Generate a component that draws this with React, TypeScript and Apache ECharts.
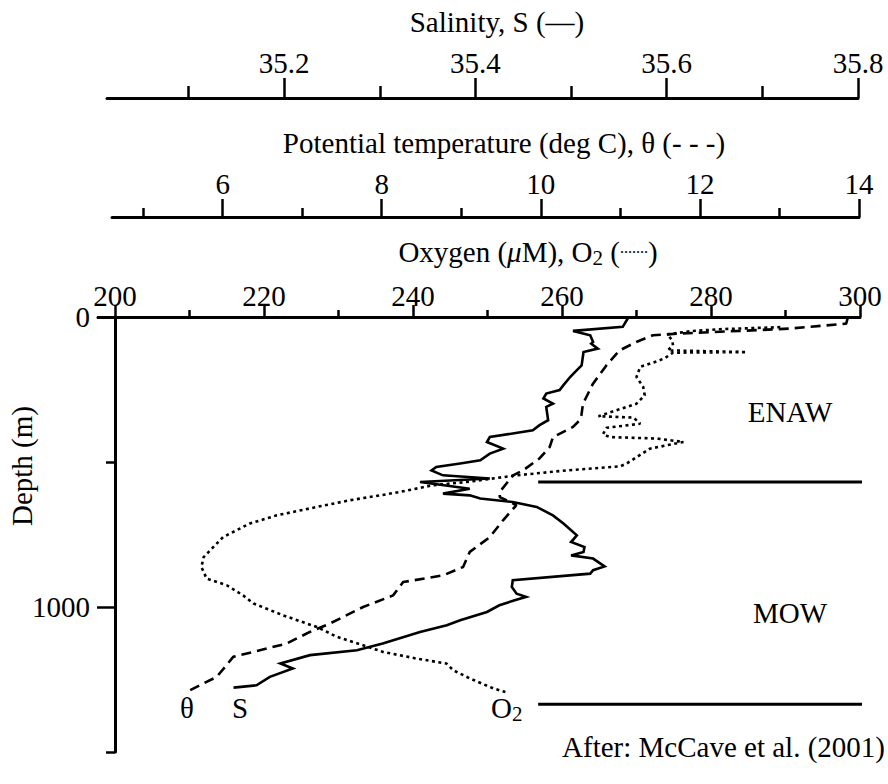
import React, { useEffect, useRef } from 'react';
import * as echarts from 'echarts';

const FONT = '"Liberation Serif", "Times New Roman", serif';
const FS = 29;

// ---- Data ----
// Salinity S vs depth (m)
const salDepth = [1, 34, 48, 63, 86, 92, 109, 121, 167, 190, 207, 235, 252, 264, 281, 299, 310, 356, 373, 391, 414, 431, 454, 471, 494, 505, 517, 529, 546, 557, 569, 592, 609, 615, 626, 638, 655, 684, 712, 753, 776, 793, 810, 822, 833, 860, 873, 885, 908, 931, 954, 965, 977, 994, 1017, 1046, 1063, 1086, 1126, 1149, 1166, 1195, 1212, 1241, 1270, 1278];
const salValue = [35.560, 35.554, 35.502, 35.520, 35.523, 35.521, 35.528, 35.513, 35.511, 35.504, 35.499, 35.492, 35.488, 35.474, 35.471, 35.481, 35.474, 35.476, 35.467, 35.460, 35.415, 35.412, 35.429, 35.415, 35.405, 35.384, 35.359, 35.354, 35.366, 35.415, 35.342, 35.394, 35.366, 35.394, 35.405, 35.439, 35.464, 35.481, 35.492, 35.506, 35.500, 35.514, 35.513, 35.500, 35.523, 35.535, 35.523, 35.520, 35.439, 35.438, 35.443, 35.453, 35.441, 35.425, 35.412, 35.384, 35.370, 35.342, 35.303, 35.276, 35.227, 35.196, 35.209, 35.185, 35.171, 35.147];

// Potential temperature theta (deg C) vs depth (m)
const tempDepth = [2, 23, 40, 48, 57, 63, 86, 115, 167, 230, 299, 339, 356, 379, 414, 448, 487, 529, 546, 574, 603, 621, 649, 701, 759, 810, 862, 891, 914, 960, 1000, 1057, 1086, 1126, 1172, 1207, 1241, 1287];
const tempValue = [13.859, 13.839, 13.127, 12.499, 11.745, 11.410, 11.201, 10.991, 10.824, 10.656, 10.530, 10.510, 10.489, 10.405, 10.153, 10.112, 9.986, 9.776, 9.651, 9.568, 9.484, 9.484, 9.693, 9.525, 9.358, 9.107, 9.023, 8.771, 8.269, 8.143, 7.766, 7.348, 7.097, 6.804, 6.133, 6.029, 5.925, 5.589];

// Oxygen O2 (uM) vs depth (m)
const oxyDepth = [35, 42, 49, 60, 80, 98, 115, 121, 123, 142, 153, 172, 207, 241, 270, 299, 310, 342, 347, 368, 382, 404, 414, 419, 431, 454, 505, 515, 529, 546, 569, 580, 603, 615, 632, 655, 684, 712, 759, 828, 862, 902, 925, 960, 988, 1029, 1069, 1103, 1132, 1155, 1178, 1195, 1218, 1247, 1281, 1293];
const oxyValue = [289.3, 281.2, 277.2, 274.1, 274.8, 274.9, 274.2, 284.8, 274.9, 273.8, 272.7, 270.5, 270.0, 270.9, 271.1, 270.0, 268.7, 264.9, 269.6, 270.5, 266.0, 265.5, 266.4, 272.7, 276.3, 271.8, 268.7, 267.8, 260.6, 253.9, 247.2, 242.7, 238.3, 235.6, 231.5, 227.1, 221.7, 218.1, 214.5, 211.9, 211.6, 212.3, 215.0, 217.2, 218.6, 222.6, 227.1, 229.8, 233.3, 236.0, 240.5, 244.5, 245.4, 247.7, 250.8, 252.4];

// Water-mass boundary depths (m) and their oxygen-axis extent
const boundaryDepths = [569, 1335];
const boundaryOxyRange = [256.8, 303.4];

// Axis ticks
const oxyMajor = [200, 220, 240, 260, 280, 300];
const oxyMinor = [210, 230, 250, 270, 290];
const tempMajor = [6, 8, 10, 12, 14];
const tempMinor = [5, 7, 9, 11, 13];
const salMajor = [35.2, 35.4, 35.6, 35.8];
const salMinor = [35.1, 35.3, 35.5, 35.7];
const depthMajor = [0, 1000];
const depthMinor = [500, 1500];

const BLACK = '#000';

function topAxis(
  gridIndex: number, min: number, max: number, offset: number,
  values: number[], tickLen: number, withLabels: boolean, margin: number,
  fmt?: (v: number) => string,
) {
  return {
    type: 'value', gridIndex, position: 'top', offset, min, max,
    axisLine: { show: withLabels, onZero: false, lineStyle: { color: BLACK, width: 3 } },
    axisTick: { show: true, inside: false, length: tickLen, customValues: values, lineStyle: { color: BLACK, width: 2.5 } },
    axisLabel: withLabels
      ? { show: true, customValues: values, margin, fontSize: FS, fontFamily: FONT, color: BLACK, formatter: fmt }
      : { show: false },
    splitLine: { show: false },
  };
}

function hiddenY(gridIndex: number) {
  return {
    type: 'value', gridIndex, position: 'left', min: 0, max: 1500, inverse: true, show: false,
    axisLine: { show: false, onZero: false }, splitLine: { show: false },
  };
}

const zip = (xs: number[], ys: number[]) => xs.map((x, i) => [x, ys[i]]);

export default function App() {
  const ref = useRef<HTMLDivElement>(null);

  useEffect(() => {
    if (!ref.current) return;
    const chart = echarts.init(ref.current, null, { renderer: 'svg' });

    const gridBase = { top: 317, bottom: 32, containLabel: false, outerBoundsMode: 'none' };

    const option: any = {
      animation: false,
      backgroundColor: '#fff',
      grid: [
        { ...gridBase, left: 98, right: 28 },   // oxygen + depth
        { ...gridBase, left: 112, right: 29 },  // temperature
        { ...gridBase, left: 107, right: 30 },  // salinity
      ],
      xAxis: [
        topAxis(0, 197.72, 300, 0, oxyMajor, 12, true, 7, (v: number) => String(v)),
        topAxis(0, 197.72, 300, 0, oxyMinor, 7, false, 0),
        topAxis(1, 4.609, 14, 100, tempMajor, 18, true, 19, (v: number) => String(v)),
        topAxis(1, 4.609, 14, 100, tempMinor, 9, false, 0),
        topAxis(2, 35.0147, 35.8, 219, salMajor, 20, true, 21, (v: number) => v.toFixed(1)),
        topAxis(2, 35.0147, 35.8, 219, salMinor, 12, false, 0),
      ],
      yAxis: [
        {
          type: 'value', gridIndex: 0, position: 'left', min: 0, max: 1500, inverse: true, offset: -17,
          axisLine: { show: true, onZero: false, lineStyle: { color: BLACK, width: 3 } },
          axisTick: { show: true, length: 18, customValues: depthMajor, lineStyle: { color: BLACK, width: 2.5 } },
          axisLabel: {
            show: true, customValues: depthMajor, margin: 25, fontSize: FS, fontFamily: FONT, color: BLACK,
            formatter: (v: number) => String(v),
          },
          splitLine: { show: false },
        },
        {
          type: 'value', gridIndex: 0, position: 'left', min: 0, max: 1500, inverse: true, offset: -17,
          axisLine: { show: false, onZero: false },
          axisTick: { show: true, length: 9, customValues: depthMinor, lineStyle: { color: BLACK, width: 2.5 } },
          axisLabel: { show: false },
          splitLine: { show: false },
        },
        hiddenY(1),
        hiddenY(2),
      ],
      series: [
        {
          name: 'O2', type: 'line', xAxisIndex: 0, yAxisIndex: 0, symbol: 'none', z: 3,
          data: zip(oxyValue, oxyDepth),
          lineStyle: { color: BLACK, width: 2.6, type: [3, 3.5], cap: 'butt' },
        },
        {
          name: 'theta', type: 'line', xAxisIndex: 2, yAxisIndex: 2, symbol: 'none', z: 3,
          data: zip(tempValue, tempDepth),
          lineStyle: { color: BLACK, width: 2.6, type: [10, 6] },
        },
        {
          name: 'S', type: 'line', xAxisIndex: 4, yAxisIndex: 3, symbol: 'none', z: 4,
          data: zip(salValue, salDepth),
          lineStyle: { color: BLACK, width: 2.6, type: 'solid', join: 'miter' },
        },
        ...boundaryDepths.map((d, i) => ({
          name: 'boundary' + i, type: 'line', xAxisIndex: 0, yAxisIndex: 0, symbol: 'none', clip: false, z: 2,
          data: boundaryOxyRange.map((x) => [x, d]),
          lineStyle: { color: BLACK, width: 3, type: 'solid' },
        })),
      ],
      graphic: [
        {
          type: 'text', x: 497, y: 22,
          style: { text: 'Salinity, S (—)', fontSize: FS, fontFamily: FONT, fill: BLACK, align: 'center', verticalAlign: 'middle' },
        },
        {
          type: 'text', x: 504, y: 143,
          style: { text: 'Potential temperature (deg C), θ (- - -)', fontSize: FS, fontFamily: FONT, fill: BLACK, align: 'center', verticalAlign: 'middle' },
        },
        {
          type: 'text', x: 528, y: 252,
          style: {
            text: '{a|Oxygen (}{i|μ}{a|M), O}{s|2}{a| (}{d|·······}{a|)}',
            align: 'center', verticalAlign: 'middle', fill: BLACK,
            rich: {
              a: { fontSize: FS, fontFamily: FONT, lineHeight: 32, fill: BLACK },
              i: { fontSize: FS, fontFamily: FONT, fontStyle: 'italic', lineHeight: 32, fill: BLACK },
              s: { fontSize: 21, fontFamily: FONT, lineHeight: 12, verticalAlign: 'bottom', fill: BLACK },
              d: { fontSize: 12, fontFamily: FONT, fontWeight: 'bold', lineHeight: 32, fill: BLACK },
            },
          },
        },
        {
          type: 'text', x: 22, y: 466, rotation: Math.PI / 2,
          style: { text: 'Depth (m)', fontSize: FS, fontFamily: FONT, fill: BLACK, align: 'center', verticalAlign: 'middle' },
        },
        {
          type: 'text', x: 790, y: 412,
          style: { text: 'ENAW', fontSize: FS, fontFamily: FONT, fill: BLACK, align: 'center', verticalAlign: 'middle' },
        },
        {
          type: 'text', x: 790, y: 613,
          style: { text: 'MOW', fontSize: FS, fontFamily: FONT, fill: BLACK, align: 'center', verticalAlign: 'middle' },
        },
        {
          type: 'text', x: 187, y: 708,
          style: { text: 'θ', fontSize: FS, fontFamily: FONT, fill: BLACK, align: 'center', verticalAlign: 'middle' },
        },
        {
          type: 'text', x: 240, y: 708,
          style: { text: 'S', fontSize: FS, fontFamily: FONT, fill: BLACK, align: 'center', verticalAlign: 'middle' },
        },
        {
          type: 'text', x: 491, y: 708,
          style: {
            text: '{a|O}{s|2}',
            align: 'left', verticalAlign: 'middle', fill: BLACK,
            rich: {
              a: { fontSize: FS, fontFamily: FONT, lineHeight: 32, fill: BLACK },
              s: { fontSize: 21, fontFamily: FONT, lineHeight: 12, verticalAlign: 'bottom', fill: BLACK },
            },
          },
        },
        {
          type: 'text', x: 885, y: 747,
          style: { text: 'After: McCave et al. (2001)', fontSize: FS, fontFamily: FONT, fill: BLACK, align: 'right', verticalAlign: 'middle' },
        },
      ],
    };

    chart.setOption(option);
    return () => chart.dispose();
  }, []);

  return (
    <div
      ref={ref}
      style={{ position: 'fixed', left: 0, top: 0, width: 888, height: 784, background: '#fff' }}
    />
  );
}
